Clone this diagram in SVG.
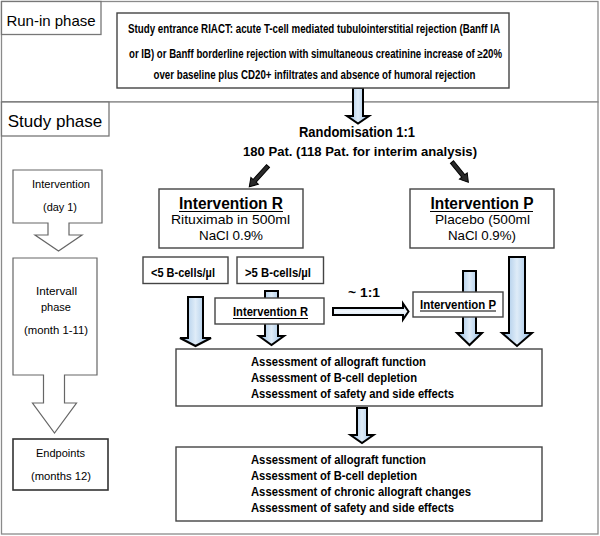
<svg xmlns="http://www.w3.org/2000/svg" width="600" height="536" viewBox="0 0 600 536">
<defs>
<linearGradient id="blue" x1="0" y1="0" x2="1" y2="0">
<stop offset="0" stop-color="#93bbe2"/>
<stop offset="0.5" stop-color="#dfecf8"/>
<stop offset="1" stop-color="#93bbe2"/>
</linearGradient>
<linearGradient id="blueh" x1="0" y1="0" x2="0" y2="1">
<stop offset="0" stop-color="#bcd6ee"/>
<stop offset="0.5" stop-color="#f2f7fc"/>
<stop offset="1" stop-color="#bcd6ee"/>
</linearGradient>
</defs>
<style>
text{font-family:"Liberation Sans",Arial,sans-serif;fill:#000}
.panel{fill:#fff;stroke:#8a8a8a;stroke-width:1.3}
.label{fill:#fff;stroke:#777;stroke-width:1.3}
.box{fill:#fff;stroke:#444;stroke-width:1.4}
.lbox{fill:#fff;stroke:#666;stroke-width:1.2}
.blk{fill:url(#blue);stroke:#000;stroke-width:2;stroke-linejoin:miter}
.dark{fill:#2a2a2a;stroke:#000;stroke-width:1}
.b{font-weight:bold}
.c{text-anchor:middle}
.ul{stroke:#000;stroke-width:1.2}
</style>
<rect width="600" height="536" fill="#fff"/>

<g id="panel-runin">
<rect class="panel" x="1.5" y="1.5" width="596.5" height="100.5"/>
<rect class="label" x="1.5" y="1.5" width="99.5" height="33"/>
<text x="51" y="26" class="c" font-size="15">Run-in phase</text>
</g>
<g id="panel-study">
<rect class="panel" x="1.5" y="102" width="596.5" height="432"/>
<rect class="label" x="1.5" y="102" width="107.5" height="34"/>
<text x="55" y="127" class="c" font-size="17">Study phase</text>
</g>

<g id="connectors">
<path class="blk" d="M353,88 V116 H347 L358,123.5 L369,116 H363 V88 Z"/>
<path class="dark" transform="translate(268,166) rotate(132)" d="M0,-2 H20 V-5 L28,0 L20,5 V2 H0 Z"/>
<path class="dark" transform="translate(452,162) rotate(51)" d="M0,-2 H18 V-5 L26,0 L18,5 V2 H0 Z"/>
<path class="blk" d="M188,297 V338 H180 L195.5,346 L211,338 H203 V297 Z"/>
<path class="blk" d="M265,291 V336 H259 L271.5,345 L284,336 H278 V291 Z"/>
<path class="blk" d="M463,271 V333 H457 L469.5,345 L482,333 H476 V271 Z"/>
<path class="blk" d="M509,257 V333 H502 L517,346 L532,333 H525 V257 Z"/>
<path class="blk" d="M333,308 H403 V303.5 L408.5,311.5 L403,319.5 V315 H333 Z" style="fill:url(#blueh)"/>
<path class="blk" d="M357,408 V435 H350.5 L362,443 L373.5,435 H367 V408 Z"/>
</g>

<g id="entrance">
<rect class="box" x="117" y="13" width="392" height="75"/>
<text x="314" y="32.5" class="c b" font-size="12" textLength="372" lengthAdjust="spacingAndGlyphs">Study entrance RIACT: acute T-cell mediated tubulointerstitial rejection (Banff IA</text>
<text x="315.5" y="57.5" class="c b" font-size="12" textLength="373" lengthAdjust="spacingAndGlyphs">or IB) or Banff borderline rejection with simultaneous creatinine increase of ≥20%</text>
<text x="314.5" y="78.5" class="c b" font-size="12" textLength="322" lengthAdjust="spacingAndGlyphs">over baseline plus CD20+ infiltrates and absence of humoral rejection</text>
</g>

<g id="randomisation">
<text x="357" y="137" class="c b" font-size="14" textLength="116" lengthAdjust="spacingAndGlyphs">Randomisation 1:1</text>
<text x="360" y="156" class="c b" font-size="13.5" textLength="234" lengthAdjust="spacingAndGlyphs">180 Pat. (118 Pat. for interim analysis)</text>
</g>

<g id="intervention-r">
<rect class="box" x="159" y="189" width="144" height="59"/>
<text x="231" y="209" class="c b" font-size="16" textLength="104" lengthAdjust="spacingAndGlyphs">Intervention R</text>
<line class="ul" x1="179" y1="211.5" x2="283" y2="211.5"/>
<text x="230.5" y="224" class="c" font-size="13" textLength="119" lengthAdjust="spacingAndGlyphs">Rituximab in 500ml</text>
<text x="231" y="240" class="c" font-size="13" textLength="64" lengthAdjust="spacingAndGlyphs">NaCl 0.9%</text>
</g>

<g id="intervention-p">
<rect class="box" x="410" y="189" width="144" height="59"/>
<text x="482" y="209" class="c b" font-size="16" textLength="103" lengthAdjust="spacingAndGlyphs">Intervention P</text>
<line class="ul" x1="430" y1="211.5" x2="533" y2="211.5"/>
<text x="482.5" y="224" class="c" font-size="13" textLength="95" lengthAdjust="spacingAndGlyphs">Placebo (500ml</text>
<text x="482" y="240" class="c" font-size="13" textLength="68" lengthAdjust="spacingAndGlyphs">NaCl 0.9%)</text>
</g>

<g id="lt5">
<rect class="box" x="143" y="257" width="85" height="26.5"/>
<text x="183" y="276.5" class="c b" font-size="12" textLength="64" lengthAdjust="spacingAndGlyphs">&lt;5 B-cells/µl</text>
</g>

<g id="gt5">
<rect class="box" x="237" y="257" width="86.5" height="26.5"/>
<text x="278" y="276.5" class="c b" font-size="12" textLength="66" lengthAdjust="spacingAndGlyphs">&gt;5 B-cells/µl</text>
</g>

<g id="intervention-r-2">
<rect class="box" x="215" y="298" width="109" height="26"/>
<text x="270.5" y="315.5" class="c b" font-size="12" textLength="75" lengthAdjust="spacingAndGlyphs">Intervention R</text>
<line class="ul" x1="233" y1="318.5" x2="308" y2="318.5"/>
</g>

<g id="ratio">
<text x="364" y="296.5" class="c b" font-size="12.5" textLength="32" lengthAdjust="spacingAndGlyphs">~ 1:1</text>
</g>

<g id="intervention-p-2">
<rect class="box" x="413" y="292" width="90" height="25"/>
<text x="458" y="308.5" class="c b" font-size="12" textLength="76" lengthAdjust="spacingAndGlyphs">Intervention P</text>
<line class="ul" x1="420" y1="311" x2="496" y2="311"/>
</g>

<g id="assessment-1">
<rect class="box" x="176" y="349" width="366" height="57"/>
<text x="251" y="366" class="b" font-size="12" textLength="175" lengthAdjust="spacingAndGlyphs">Assessment of allograft function</text>
<text x="251" y="382.3" class="b" font-size="12" textLength="166" lengthAdjust="spacingAndGlyphs">Assessment of B-cell depletion</text>
<text x="251" y="398.3" class="b" font-size="12" textLength="203" lengthAdjust="spacingAndGlyphs">Assessment of safety and side effects</text>
</g>

<g id="assessment-2">
<rect class="box" x="176" y="447" width="366" height="74"/>
<text x="251" y="464.3" class="b" font-size="12" textLength="175" lengthAdjust="spacingAndGlyphs">Assessment of allograft function</text>
<text x="251" y="480.3" class="b" font-size="12" textLength="166" lengthAdjust="spacingAndGlyphs">Assessment of B-cell depletion</text>
<text x="251" y="496.2" class="b" font-size="12" textLength="220" lengthAdjust="spacingAndGlyphs">Assessment of chronic allograft changes</text>
<text x="251" y="512.3" class="b" font-size="12" textLength="203" lengthAdjust="spacingAndGlyphs">Assessment of safety and side effects</text>
</g>

<g id="timeline-intervention">
<path class="lbox" d="M13,170 H102 V223 H69 V235 H82 L58.5,251 L35,235 H48 V223 H13 Z"/>
<text x="61" y="187.5" class="c" font-size="11.5" textLength="58" lengthAdjust="spacingAndGlyphs">Intervention</text>
<text x="60" y="210.5" class="c" font-size="11.5" textLength="34" lengthAdjust="spacingAndGlyphs">(day 1)</text>
</g>

<g id="timeline-intervall">
<path class="lbox" d="M13,258 H97 V375 H64.5 V403 H76.5 L54.5,433 L32.5,403 H43.5 V375 H13 Z"/>
<text x="56.5" y="295" class="c" font-size="11.5" textLength="41" lengthAdjust="spacingAndGlyphs">Intervall</text>
<text x="56" y="310.5" class="c" font-size="11.5" textLength="30" lengthAdjust="spacingAndGlyphs">phase</text>
<text x="56" y="334" class="c" font-size="11.5" textLength="64" lengthAdjust="spacingAndGlyphs">(month 1-11)</text>
</g>

<g id="timeline-endpoints">
<rect class="box" x="13" y="439" width="95" height="51" style="stroke:#333;stroke-width:1.6"/>
<text x="60.5" y="457" class="c" font-size="11.5" textLength="49" lengthAdjust="spacingAndGlyphs">Endpoints</text>
<text x="61" y="479.5" class="c" font-size="11.5" textLength="60" lengthAdjust="spacingAndGlyphs">(months 12)</text>
</g>
</svg>
